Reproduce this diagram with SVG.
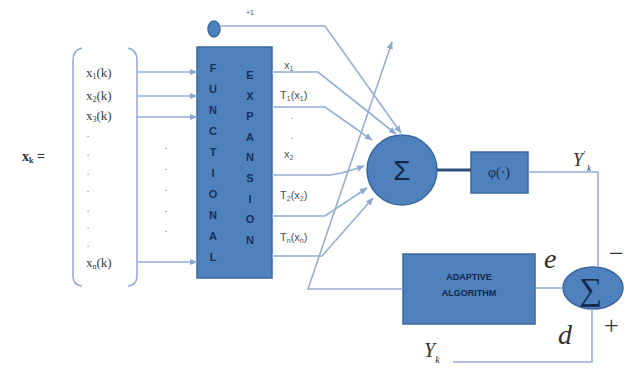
<svg xmlns="http://www.w3.org/2000/svg" width="630" height="376" viewBox="0 0 630 376">
<defs>
<marker id="ah" viewBox="0 0 10 10" refX="9" refY="5" markerWidth="5" markerHeight="5" orient="auto-start-reverse">
<path d="M0,1 L10,5 L0,9 z" fill="#8eaad3"/>
</marker>
<style>
.ln{fill:none;stroke:#94afd6;stroke-width:1.6}
.box{fill:#4f81bd;stroke:#3b68a0;stroke-width:1.5}
.lab{font-family:"Liberation Serif",serif;font-size:13px;fill:#3a3a3a}
.sm{font-family:"Liberation Sans",sans-serif;font-size:11px;fill:#505050}
.fe{font-family:"Liberation Sans",sans-serif;font-size:11px;font-weight:bold;fill:#1a2f5a;text-anchor:middle}
.dot{font-family:"Liberation Sans",sans-serif;font-size:11px;fill:#8a8a8a;text-anchor:middle}
.it{font-family:"Liberation Serif",serif;font-style:italic;fill:#303030}
</style>
</defs>
<rect width="630" height="376" fill="#ffffff"/>

<g id="input-vector">
<text x="22" y="161" style="font-family:'Liberation Serif',serif;font-size:14px;font-weight:bold;fill:#303030">x<tspan font-size="8" dy="2">k</tspan><tspan dy="-2"> =</tspan></text>
<path class="ln" d="M82 48 Q73 50 73 60 L73 276 Q73 285 82 286" stroke="#aab8d6"/>
<path class="ln" d="M128 48 Q137 50 137 60 L137 276 Q137 285 128 286" stroke="#aab8d6"/>
<text class="lab" x="86" y="77">x<tspan font-size="8" dy="2">1</tspan><tspan dy="-2">(k)</tspan></text>
<text class="lab" x="86" y="100">x<tspan font-size="8" dy="2">2</tspan><tspan dy="-2">(k)</tspan></text>
<text class="lab" x="86" y="120">x<tspan font-size="8" dy="2">3</tspan><tspan dy="-2">(k)</tspan></text>
<text class="dot" x="88" y="137">.</text>
<text class="dot" x="88" y="156">.</text>
<text class="dot" x="88" y="175">.</text>
<text class="dot" x="88" y="192">.</text>
<text class="dot" x="88" y="212">.</text>
<text class="dot" x="88" y="229">.</text>
<text class="dot" x="88" y="247">.</text>
<text class="lab" x="86" y="267">x<tspan font-size="8" dy="2">n</tspan><tspan dy="-2">(k)</tspan></text>
<text class="dot" x="166" y="149">.</text>
<text class="dot" x="166" y="170">.</text>
<text class="dot" x="166" y="191">.</text>
<text class="dot" x="166" y="212">.</text>
<text class="dot" x="166" y="232">.</text>
</g>

<g id="bias">
<ellipse cx="214" cy="29" rx="6" ry="8" class="box"/>
<text x="246" y="15" style="font-family:'Liberation Sans',sans-serif;font-size:7px;fill:#505050">+1</text>
</g>

<g id="functional-expansion">
<rect x="197" y="47" width="75" height="231" class="box"/>
<text class="fe" x="213" y="72">F</text>
<text class="fe" x="213" y="93">U</text>
<text class="fe" x="213" y="114">N</text>
<text class="fe" x="213" y="135">C</text>
<text class="fe" x="213" y="156">T</text>
<text class="fe" x="213" y="177">I</text>
<text class="fe" x="213" y="198">O</text>
<text class="fe" x="213" y="219">N</text>
<text class="fe" x="213" y="240">A</text>
<text class="fe" x="213" y="261">L</text>
<text class="fe" x="250" y="79">E</text>
<text class="fe" x="250" y="100">X</text>
<text class="fe" x="250" y="120">P</text>
<text class="fe" x="250" y="141">A</text>
<text class="fe" x="250" y="161">N</text>
<text class="fe" x="250" y="182">S</text>
<text class="fe" x="250" y="203">I</text>
<text class="fe" x="250" y="223">O</text>
<text class="fe" x="250" y="244">N</text>
</g>

<g id="expansion-labels">
<text class="sm" x="284" y="69">x<tspan font-size="7" dy="2">1</tspan></text>
<text class="sm" x="280" y="99">T<tspan font-size="7" dy="2">1</tspan><tspan dy="-2">(x</tspan><tspan font-size="7" dy="2">1</tspan><tspan dy="-2">)</tspan></text>
<text class="dot" x="292" y="119">.</text>
<text class="dot" x="292" y="139">.</text>
<text class="sm" x="284" y="158">x<tspan font-size="7" dy="2">2</tspan></text>
<text class="sm" x="280" y="199">T<tspan font-size="7" dy="2">2</tspan><tspan dy="-2">(x</tspan><tspan font-size="7" dy="2">2</tspan><tspan dy="-2">)</tspan></text>
<text class="sm" x="280" y="241">T<tspan font-size="7" dy="2">n</tspan><tspan dy="-2">(x</tspan><tspan font-size="7" dy="2">n</tspan><tspan dy="-2">)</tspan></text>
</g>

<g id="sum">
<circle cx="402" cy="170" r="35" class="box"/>
<text x="402" y="180" style="font-family:'Liberation Sans',sans-serif;font-size:28px;fill:#14284b;text-anchor:middle">Σ</text>
</g>

<g id="activation">
<rect x="471" y="152" width="57" height="41" class="box"/>
<text x="499" y="177" style="font-family:'Liberation Serif',serif;font-size:14px;fill:#14284b;text-anchor:middle">φ(·)</text>
</g>

<g id="adaptive-algorithm">
<rect x="403" y="254" width="132" height="70" class="box"/>
<text x="469" y="280" style="font-family:'Liberation Sans',sans-serif;font-size:9px;font-weight:bold;fill:#14284b;text-anchor:middle">ADAPTIVE</text>
<text x="469" y="296" style="font-family:'Liberation Sans',sans-serif;font-size:9px;font-weight:bold;fill:#14284b;text-anchor:middle">ALGORITHM</text>
</g>

<g id="error-sum">
<ellipse cx="593" cy="288" rx="30" ry="21" class="box"/>
<text x="591" y="300" style="font-family:'Liberation Serif',serif;font-size:32px;fill:#14284b;text-anchor:middle">∑</text>
</g>

<g id="signal-labels">
<text class="it" x="573" y="166" font-size="18">Y<tspan font-size="9" dy="-9">'</tspan><tspan font-size="9" dx="2" dy="14">k</tspan></text>
<text class="it" x="544" y="268" font-size="28">e</text>
<text x="609" y="262" style="font-family:'Liberation Serif',serif;font-size:26px;fill:#303030">−</text>
<text class="it" x="558" y="344" font-size="28">d</text>
<text x="604" y="334" style="font-family:'Liberation Serif',serif;font-size:26px;fill:#303030">+</text>
<text class="it" x="424" y="357" font-size="20">Y<tspan font-size="10" dy="6">k</tspan></text>
</g>

<g id="connectors">
<path class="ln" d="M137 72 L197 72" marker-end="url(#ah)"/>
<path class="ln" d="M137 96 L197 96" marker-end="url(#ah)"/>
<path class="ln" d="M137 117 L197 117" marker-end="url(#ah)"/>
<path class="ln" d="M137 262 L197 262" marker-end="url(#ah)"/>
<path class="ln" d="M221 26 L325 26 L401 133" marker-end="url(#ah)"/>
<path class="ln" d="M272 72 L318 72 L396 134" marker-end="url(#ah)"/>
<path class="ln" d="M272 107 L325 107 L372 140" marker-end="url(#ah)"/>
<path class="ln" d="M272 175 L330 175 Q345 173 364 166" marker-end="url(#ah)"/>
<path class="ln" d="M272 216 L325 216 L367 188" marker-end="url(#ah)"/>
<path class="ln" d="M272 256 L322 256 L373 198" marker-end="url(#ah)"/>
<path class="ln" d="M403 289 L308 289 L392 42" marker-end="url(#ah)"/>
<path d="M437 170 L471 170" fill="none" stroke="#2f4f7a" stroke-width="3"/>
<path class="ln" d="M528 172 L598 172 L598 267"/>
<path class="ln" d="M563 288 L535 288"/>
<path class="ln" d="M453 362 L592 362 L592 309"/>
</g>
</svg>
